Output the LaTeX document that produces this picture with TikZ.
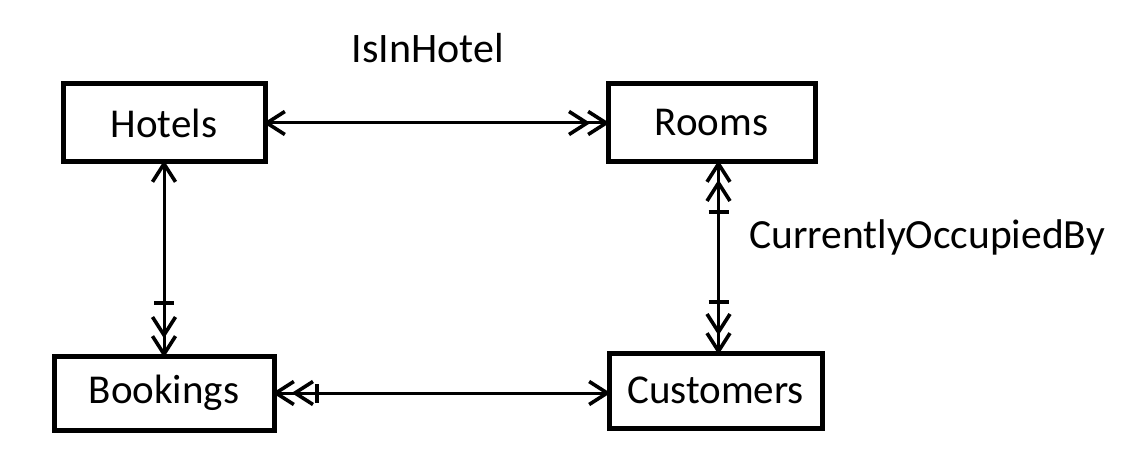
\documentclass[tikz,border=0pt]{standalone}
\usepackage{fontspec}
\setmainfont{Carlito}
\usetikzlibrary{arrows.meta,calc}
\begin{document}
\begin{tikzpicture}[x=1pt,y=1pt,
  ent/.style={draw, line width=5pt, inner sep=0pt, font=\fontsize{41}{48}\selectfont},
  lbl/.style={inner sep=0pt},
  conn/.style={line width=3pt, >={Straight Barb[length=18pt,width=23pt,line width=3.6pt,sep=-4pt]}},
  tick/.style={line width=3.4pt}]
\useasboundingbox (0,0) rectangle (1146,-470);
\node[ent, minimum width=202pt, minimum height=78pt] (H) at (164,-123) {Hotels};
\node[ent, minimum width=207pt, minimum height=78pt] (R) at (711.5,-123) {Rooms};
\node[ent, minimum width=220pt, minimum height=74pt] (B) at (164,-393) {Bookings};
\node[ent, minimum width=213pt, minimum height=75pt] (C) at (715.5,-390.5) {Customers};
\node[lbl, font=\fontsize{42}{48}\selectfont, anchor=base] (l1) at (428,-63) {IsInHotel};
\node[lbl, font=\fontsize{41.5}{48}\selectfont, anchor=base west] (l2) at (749,-249) {CurrentlyOccupiedBy};
\draw[conn,<->>] (H.east) -- (R.west);
\draw[conn,<->>] (H.south) -- (B.north);
\draw[conn,<<->>] ([xshift=7pt]R.south) -- ([xshift=3pt]C.north);
\draw[conn,<<->] (B.east) -- (B.east -| C.west);
\draw[tick] ($(B.north)+(-10,50.5)$) -- ++(20,0);
\draw[tick] ($(R.south)+(-3,-47.5)$) -- ++(20,0);
\draw[tick] ($(C.north)+(-7,48.5)$) -- ++(20,0);
\draw[tick] ($(B.east)+(40.5,-9.5)$) -- ++(0,19);
\end{tikzpicture}
\end{document}
